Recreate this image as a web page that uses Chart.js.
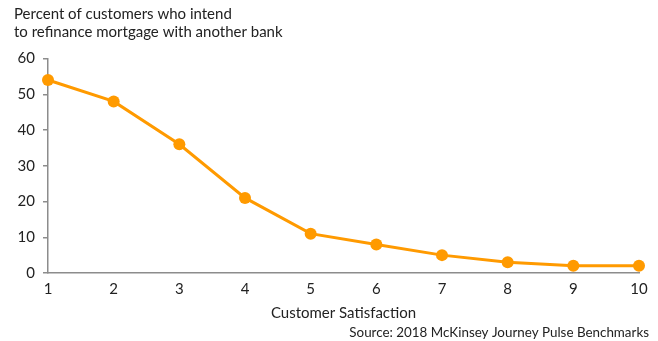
<!DOCTYPE html>
<html>
<head>
<meta charset="utf-8">
<script src="https://cdn.jsdelivr.net/npm/chart.js@4"></script>
<style>
html,body{margin:0;padding:0;background:#fff;}
#wrap{width:658px;height:341px;position:relative;}
</style>
</head>
<body>
<div id="wrap"><canvas id="c" width="658" height="341"></canvas></div>
<script>
const categories = ["1","2","3","4","5","6","7","8","9","10"];
const refinancePct = [54, 48, 36, 21, 11, 8, 5, 3, 2, 2];
const yTicks = [0, 10, 20, 30, 40, 50, 60];
const titleLines = ["Percent of customers who intend", "to refinance mortgage with another bank"];
const xTitle = "Customer Satisfaction";
const sourceText = "Source: 2018 McKinsey Journey Pulse Benchmarks";

const FONT = "Lato";
const TEXT = "#222";
const AXIS = "#8c8c8c";
const ORANGE = "#FF9A00";

const sourcePlugin = {
  id: 'sourceNote',
  afterDraw(chart) {
    const ctx = chart.ctx;
    ctx.save();
    ctx.font = "13.4px " + FONT;
    ctx.fillStyle = TEXT;
    ctx.textAlign = 'right';
    ctx.textBaseline = 'middle';
    ctx.fillText(sourceText, chart.width - 9, chart.height - 8);
    ctx.restore();
  }
};

new Chart(document.getElementById('c'), {
  type: 'line',
  data: {
    labels: categories,
    datasets: [{
      data: refinancePct,
      borderColor: ORANGE,
      backgroundColor: ORANGE,
      borderWidth: 3,
      pointRadius: 6,
      pointHoverRadius: 6,
      pointBorderWidth: 0,
      tension: 0
    }]
  },
  plugins: [sourcePlugin],
  options: {
    responsive: false,
    animation: false,
    devicePixelRatio: 1,
    layout: { padding: { left: 14, right: 19, top: 6, bottom: 19 } },
    plugins: {
      legend: { display: false },
      tooltip: { enabled: false },
      title: {
        display: true,
        text: titleLines,
        align: 'start',
        color: TEXT,
        font: { family: FONT, size: 15, weight: 'normal', lineHeight: 1.15 },
        padding: { top: 0, bottom: 18 }
      }
    },
    scales: {
      x: {
        type: 'category',
        offset: false,
        grid: { display: false, drawTicks: false },
        border: { display: true, color: AXIS, width: 1.5 },
        ticks: { color: TEXT, font: { family: FONT, size: 15 }, padding: 7, maxRotation: 0, autoSkip: false },
        title: { display: true, text: xTitle, color: TEXT, font: { family: FONT, size: 15 }, padding: { top: -1, bottom: 0 } }
      },
      y: {
        min: 0, max: 60,
        afterBuildTicks: (axis) => { axis.ticks = yTicks.map(v => ({ value: v })); },
        afterFit: (axis) => { axis.width = 34; },
        grid: { display: true, drawOnChartArea: false, drawTicks: true, tickLength: 5, color: AXIS, lineWidth: 1.5 },
        border: { display: true, color: AXIS, width: 1.5 },
        ticks: { color: TEXT, font: { family: FONT, size: 15 }, padding: 8 }
      }
    }
  }
});
</script>
</body>
</html>
